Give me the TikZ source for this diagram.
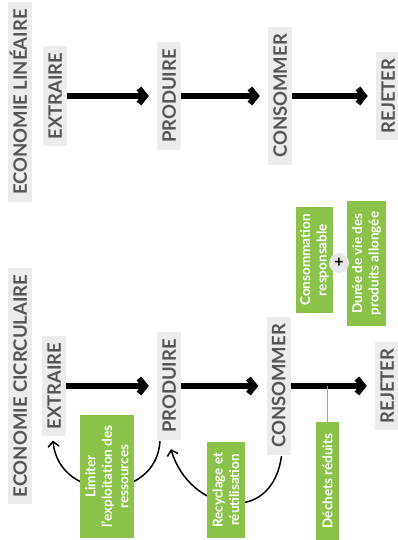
\documentclass[tikz,border=0pt]{standalone}
\usepackage{fontspec}
\setmainfont{Lato}
\usetikzlibrary{arrows.meta,calc}
\definecolor{boxgray}{HTML}{EDECEA}
\definecolor{txtgray}{HTML}{555555}
\definecolor{leaf}{HTML}{8BC34A}
\definecolor{plusgray}{HTML}{E6E6E6}
\begin{document}
\begin{tikzpicture}[x=1pt,y=-1pt,
  lab/.style={rotate=90, fill=boxgray, text=txtgray,
    font=\bfseries\fontsize{18.5}{20}\selectfont,
    inner xsep=7pt, inner ysep=0pt, text height=13.5pt, text depth=0pt,
    minimum height=24pt},
  grn/.style={rotate=90, fill=leaf, text=white,
    font=\bfseries\fontsize{13.5}{16.5}\selectfont, align=center, inner sep=0pt},
  big/.style={line width=6pt, -{Straight Barb[length=6pt,width=15pt]}, shorten >=8pt},
  thinarrow/.style={line width=1.5pt, -{Straight Barb[length=5pt,width=11pt]}},
  link/.style={leaf, line width=1pt},
]
\useasboundingbox (0,0) rectangle (398,540);

% linear economy
\node[lab] (eco1) at (20,102) {ECONOMIE LINÉAIRE};
\node[lab] (ex1) at (55,96) {EXTRAIRE};
\node[lab] (pr1) at (169,96) {PRODUIRE};
\node[lab] (co1) at (280,96) {CONSOMMER};
\node[lab] (re1) at (388,96) {REJETER};
\draw[big] (ex1.south) -- (pr1.north);
\draw[big] (pr1.south) -- (co1.north);
\draw[big] (co1.south) -- (re1.north);

% circular economy
\node[lab] (eco2) at (20,386) {ECONOMIE CICRCULAIRE};
\node[lab] (ex2) at (54,386) {EXTRAIRE};
\node[lab] (pr2) at (169,386) {PRODUIRE};
\node[lab] (co2) at (278.5,386) {CONSOMMER};
\node[lab] (re2) at (387,386) {REJETER};
\draw[big] (ex2.south) -- (pr2.north);
\draw[big] (pr2.south) -- (co2.north);
\draw[big] (co2.south) -- (re2.north);

\draw[thinarrow] ($(pr2.west)+(-9,1)$) .. controls +(-4,62) and +(6,62) .. ($(ex2.west)+(-1,4)$);
\draw[thinarrow] ($(co2.west)+(3,1)$) .. controls +(-10,72) and +(18,62) .. ($(pr2.west)+(2,9)$);

\node[grn, minimum width=123pt, minimum height=54pt] (lim) at (107,476.5) {Limiter\\l'exploitation des\\ressources};
\node[grn, minimum width=96pt, minimum height=38pt] (rec) at (226,490) {Recyclage et\\réutilisation};
\node[grn, minimum width=118pt, minimum height=23pt] (dec) at (327.5,481) {Déchets réduits};
\draw[link] (dec.east) -- (dec.east |- co2.center);

\node[grn, minimum width=106pt, minimum height=37pt] (cons) at (314.5,260) {Consommation\\responsable};
\node[grn, minimum width=125pt, minimum height=39pt] (dur) at (366.5,263.5) {Durée de vie des\\produits allongée};
\node[circle, fill=plusgray, minimum size=20pt, inner sep=0pt, font=\bfseries\fontsize{16}{16}\selectfont] (plus) at (339,263) {+};
\end{tikzpicture}
\end{document}
